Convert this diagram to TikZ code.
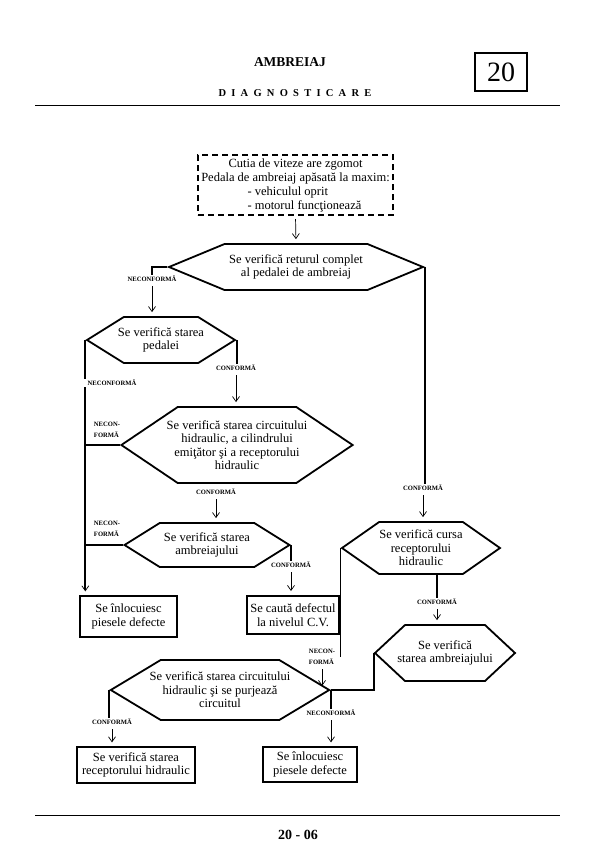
\documentclass[tikz,border=0pt]{standalone}
\usepackage{fontspec}
\setmainfont{Liberation Serif}
\usepackage{tikz}
\usetikzlibrary{shapes.symbols,arrows.meta}

\tikzset{
  hexa/.style={signal, signal to=east and west, draw, line width=1.8pt, align=center,
    inner xsep=-11pt, inner ysep=1pt, font=\fontsize{12.5}{13.5}\selectfont},
  caseta/.style={rectangle, draw, line width=1.3pt, align=center, inner sep=2pt,
    font=\fontsize{12.5}{13.5}\selectfont},
  eticheta/.style={font=\bfseries\fontsize{6.6}{11.5}\selectfont, inner sep=1pt, align=left},
  linie/.style={line width=1.8pt},
  sageata/.style={line width=0.7pt, -{Straight Barb[length=5pt,width=7pt,line width=0.7pt]},
    shorten <=3pt, shorten >=4pt},
}

\begin{document}
\begin{tikzpicture}[x=1pt,y=-1pt]
            \useasboundingbox (0,0) rectangle (605,868);
            % Header
            \node[font=\bfseries\fontsize{13.5}{15}\selectfont] (titlu) at (290,62) {AMBREIAJ};
            \node[font=\bfseries\fontsize{10.5}{12}\selectfont\addfontfeature{LetterSpace=50}] (subtitlu) at (295,93) {DIAGNOSTICARE};
            \node[draw, line width=1.3pt, minimum width=52, minimum height=38, font=\fontsize{28}{30}\selectfont] (capitol) at (501,72) {20};
            \draw[line width=1pt] (35,105) -- (560,105);
            \draw[line width=1pt] (35,815) -- (560,815);
            \node[font=\bfseries\fontsize{14}{16}\selectfont] (pagina) at (298,835) {20 - 06};

            % Nodes
            \node[draw, dashed, line width=2pt, dash pattern=on 6pt off 4pt, minimum width=195, minimum height=60,
                  align=center, inner sep=1pt, font=\fontsize{12.5}{14}\selectfont] (start) at (295.5,185)
                  {Cutia de viteze are zgomot\\Pedala de ambreiaj apăsată la maxim:\\
                   \makebox[96pt][l]{- vehiculul oprit}\\\makebox[96pt][l]{- motorul funcţionează}};
            \node[hexa, minimum width=254, minimum height=46, signal pointer angle=45] (check1) at (296,267)
                  {Se verifică returul complet\\al pedalei de ambreiaj};
            \node[hexa, minimum width=148, minimum height=46, signal pointer angle=64] (check2) at (161,340)
                  {Se verifică starea\\pedalei};
            \node[hexa, minimum width=229, minimum height=76, signal pointer angle=68] (check3) at (237,445)
                  {Se verifică starea circuitului\\hidraulic, a cilindrului\\emiţător şi a receptorului\\hidraulic};
            \node[hexa, minimum width=165, minimum height=44, signal pointer angle=64] (check4) at (207,545)
                  {Se verifică starea\\ambreiajului};
            \node[hexa, minimum width=158, minimum height=52, signal pointer angle=70] (check5) at (421,548)
                  {Se verifică cursa\\receptorului\\hidraulic};
            \node[hexa, minimum width=140, minimum height=56, signal pointer angle=86] (check6) at (445,653)
                  {Se verifică\\starea ambreiajului};
            \node[hexa, minimum width=215, minimum height=60, signal pointer angle=62] (check7) at (220,690)
                  {Se verifică starea circuitului\\hidraulic şi se purjează\\circuitul};
            \node[caseta, minimum width=97, minimum height=41] (inloc1) at (128.5,616.5) {Se înlocuiesc\\piesele defecte};
            \node[caseta, line width=2pt, minimum width=92, minimum height=38] (cauta) at (293,615) {Se caută defectul\\la nivelul C.V.};
            \node[caseta, minimum width=118, minimum height=36] (recept) at (136,765) {Se verifică starea\\receptorului hidraulic};
            \node[caseta, minimum width=94, minimum height=35] (inloc2) at (310,764.5) {Se înlocuiesc\\piesele defecte};

            % Labels
            \node[eticheta] (n1) at (152,279) {NECONFORMĂ};
            \node[eticheta] (n2) at (112,383) {NECONFORMĂ};
            \node[eticheta] (n3) at (107,430) {NECON-\\FORMĂ};
            \node[eticheta] (n4) at (107,529) {NECON-\\FORMĂ};
            \node[eticheta] (c2) at (236,368) {CONFORMĂ};
            \node[eticheta] (c3) at (216,492) {CONFORMĂ};
            \node[eticheta] (c4) at (291,565) {CONFORMĂ};
            \node[eticheta] (c1) at (423,488) {CONFORMĂ};
            \node[eticheta] (c5) at (437,602) {CONFORMĂ};
            \node[eticheta] (n5) at (322,657) {NECON-\\FORMĂ};
            \node[eticheta] (n6) at (331,713) {NECONFORMĂ};
            \node[eticheta] (c7) at (112,722) {CONFORMĂ};

            % Edges
            \draw[sageata] (start.south) -- (check1.north);
            \draw[linie] (check1.west) -| (n1.north);
            \draw[sageata] (n1.south) -- (n1.south |- check2.north);
            \draw[linie] (check2.west) -- (check2.west |- n2.north);
            \draw[linie, -{Straight Barb[length=5pt,width=7pt,line width=0.7pt]}, shorten >=4pt]
                  (check2.west |- n2.south) -- (check2.west |- inloc1.north);
            \draw[linie] (check3.west) -- (check3.west -| check2.west);
            \draw[linie] (check4.west) -- (check4.west -| check2.west);
            \draw[linie] (check2.east) -- (check2.east |- c2.north);
            \draw[sageata] (c2.south) -- (c2.south |- check3.north);
            \draw[sageata] (c3.south) -- (c3.south |- check4.north);
            \draw[linie] (check4.east) -- (check4.east |- c4.north);
            \draw[sageata] (c4.south) -- (c4.south |- cauta.north);
            \draw[linie] (check1.east) -- (check1.east |- c1.north);
            \draw[sageata] (c1.south) -- (c1.south |- check5.north);
            \draw[linie] (c5.north |- check5.south) -- (c5.north);
            \draw[sageata] (c5.south) -- (c5.south |- check6.north);
            \draw[linie] (check5.west) -- (check5.west |- n5.east);
            \draw[sageata] (n5.south) -- (n5.south |- check7.east);
            \draw[linie] (check6.west) |- (check7.east);
            \draw[linie] (n6.north |- check7.east) -- (n6.north);
            \draw[sageata] (n6.south) -- (n6.south |- inloc2.north);
            \draw[linie] (check7.west) -- (check7.west |- c7.north);
            \draw[sageata] (c7.south) -- (c7.south |- recept.north);
\end{tikzpicture}
\end{document}
